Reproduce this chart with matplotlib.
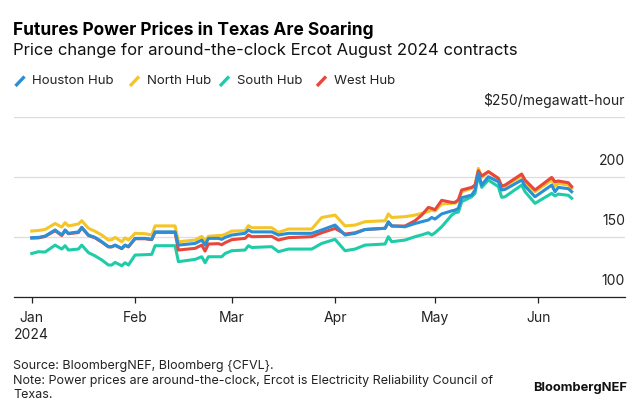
import matplotlib
matplotlib.use('Agg')
import matplotlib.pyplot as plt
from matplotlib.lines import Line2D
import numpy as np

plt.rcParams['font.family'] = ['Inter', 'DejaVu Sans']

# Data ($/MWh)
dates = ['2024-01-01', '2024-01-03', '2024-01-05', '2024-01-08', '2024-01-10', '2024-01-11',
         '2024-01-12', '2024-01-15', '2024-01-16', '2024-01-18', '2024-01-20', '2024-01-22',
         '2024-01-24', '2024-01-25', '2024-01-26', '2024-01-28', '2024-01-29', '2024-01-30',
         '2024-02-01', '2024-02-04', '2024-02-06', '2024-02-07', '2024-02-13', '2024-02-14',
         '2024-02-19', '2024-02-21', '2024-02-22', '2024-02-23', '2024-02-26', '2024-02-27',
         '2024-02-28', '2024-03-01', '2024-03-05', '2024-03-06', '2024-03-07', '2024-03-13',
         '2024-03-15', '2024-03-18', '2024-03-25', '2024-03-28', '2024-04-01', '2024-04-04',
         '2024-04-07', '2024-04-10', '2024-04-16', '2024-04-17', '2024-04-18', '2024-04-22',
         '2024-04-25', '2024-04-27', '2024-04-29', '2024-04-30', '2024-05-01', '2024-05-03',
         '2024-05-06', '2024-05-07', '2024-05-08', '2024-05-09', '2024-05-12', '2024-05-13',
         '2024-05-14', '2024-05-15', '2024-05-17', '2024-05-20', '2024-05-21', '2024-05-22',
         '2024-05-27', '2024-05-28', '2024-05-31', '2024-06-05', '2024-06-06', '2024-06-07',
         '2024-06-10', '2024-06-11']

houston = [149.2, 149.4, 150.5, 155.6, 151.4, 155.6, 152.8, 154.0, 157.8, 151.4, 149.4, 145.8,
           141.7, 141.7, 143.0, 140.3, 143.0, 141.7, 148.6, 148.6, 147.8, 154.0, 154.0, 143.0,
           144.4, 147.2, 143.0, 148.6, 148.6, 147.8, 149.4, 151.4, 152.8, 155.6, 154.0, 154.0,
           151.4, 152.8, 152.8, 155.6, 159.7, 151.4, 152.8, 156.0, 157.0, 162.5, 159.0, 158.3,
           161.0, 162.5, 163.9, 166.0, 164.7, 169.0, 171.5, 172.2, 173.6, 182.5, 184.7, 188.9,
           203.0, 193.0, 200.0, 195.8, 188.9, 189.4, 197.2, 192.2, 183.3, 193.0, 187.5, 191.1,
           190.0, 187.5]
north = [154.7, 155.2, 156.0, 161.0, 158.0, 161.7, 159.0, 160.6, 163.3, 157.0, 154.5, 151.4,
         147.2, 147.5, 149.4, 145.8, 149.0, 147.2, 152.8, 152.5, 151.4, 159.0, 159.0, 145.8,
         147.2, 150.3, 146.5, 150.3, 151.0, 151.0, 152.0, 154.7, 155.0, 159.2, 157.5, 157.5,
         153.6, 156.4, 156.4, 166.0, 168.0, 159.0, 159.7, 162.5, 163.3, 169.0, 166.0, 166.7,
         168.0, 169.4, 171.0, 172.2, 171.5, 177.2, 177.8, 178.0, 179.7, 187.5, 190.3, 192.2,
         206.9, 199.4, 204.2, 198.6, 191.1, 192.2, 200.6, 195.0, 187.5, 197.2, 192.2, 194.4,
         193.0, 190.3]
south = [136.0, 137.5, 137.2, 143.0, 139.7, 142.5, 138.9, 139.7, 143.0, 136.7, 134.0, 130.6,
         126.4, 126.4, 128.6, 125.8, 128.3, 126.4, 134.7, 135.0, 135.3, 142.5, 142.5, 129.2,
         131.1, 133.3, 128.3, 133.3, 133.3, 133.3, 136.0, 138.3, 138.9, 142.5, 141.0, 141.7,
         137.5, 139.7, 139.7, 144.4, 147.8, 138.3, 139.7, 143.0, 143.9, 150.0, 145.8, 147.2,
         150.0, 151.5, 153.3, 151.4, 153.3, 158.3, 168.0, 170.0, 170.5, 179.2, 183.3, 186.1,
         201.4, 191.1, 197.2, 191.7, 182.8, 183.3, 193.0, 187.5, 177.8, 186.1, 184.0, 185.5,
         184.5, 182.0]
west = [148.8, 149.0, 150.2, 155.0, 151.0, 155.0, 152.5, 153.5, 157.5, 151.0, 149.0, 145.5,
        141.5, 141.5, 142.8, 140.0, 142.8, 141.5, 148.3, 148.3, 147.5, 153.6, 153.6, 138.9,
        140.3, 143.0, 138.0, 143.9, 144.2, 143.3, 145.0, 147.5, 148.6, 151.4, 150.0, 150.3,
        147.2, 149.2, 150.0, 153.3, 156.9, 152.2, 153.3, 156.0, 157.0, 161.7, 158.9, 158.9,
        163.3, 168.0, 174.4, 173.6, 172.5, 180.3, 178.6, 178.6, 180.8, 188.9, 191.1, 193.0,
        205.0, 200.6, 204.2, 198.6, 192.2, 193.0, 202.2, 197.2, 188.9, 199.4, 195.8, 196.4,
        195.0, 191.7]

series_names = ['Houston Hub', 'North Hub', 'South Hub', 'West Hub']
series_colors = ['#2b8fd6', '#f5c527', '#1fcca8', '#e8473b']
month_ticks = ['2024-01-01', '2024-02-01', '2024-03-01', '2024-04-01', '2024-05-01', '2024-06-01']
month_labels = ['Jan\n2024', 'Feb', 'Mar', 'Apr', 'May', 'Jun']
y_ticks = [100, 150, 200, 250]
y_labels = ['100', '150', '200', '$250/megawatt-hour']

W, H = 640, 416
fig = plt.figure(figsize=(W / 100, H / 100), dpi=100)
ax = fig.add_axes([14 / W, 1 - 296.7 / H, (625 - 14) / W, (296.7 - 116.7) / H])

x = np.array(dates, dtype='datetime64[D]')
values = dict(zip(series_names, [houston, north, south, west]))
colors = dict(zip(series_names, series_colors))
for name in ['South Hub', 'North Hub', 'West Hub', 'Houston Hub']:
    ax.plot(x, values[name], color=colors[name], linewidth=2.2, solid_joinstyle='round')

ax.set_xlim(np.datetime64('2023-12-26T16:00'), np.datetime64('2024-06-27T00:00'))
ax.set_ylim(100, 250)

for s in ['top', 'left', 'right']:
    ax.spines[s].set_visible(False)
ax.spines['bottom'].set_color('#222222')
ax.spines['bottom'].set_linewidth(0.9)

ax.set_yticks(y_ticks)
ax.yaxis.set_tick_params(length=0, labelleft=False)
ax.grid(axis='y', color='#dddddd', linewidth=0.9)
ax.set_axisbelow(True)
for v, lab in zip(y_ticks, y_labels):
    ax.annotate(lab, xy=(1, v), xycoords=ax.get_yaxis_transform(), xytext=(0, 6),
                textcoords='offset points', ha='right', va='bottom', fontsize=10, color='#222222')

ax.set_xticks(np.array(month_ticks, dtype='datetime64[D]'))
ax.set_xticklabels(month_labels, fontsize=10, color='#222222', linespacing=1.35)
ax.xaxis.set_tick_params(length=4, width=0.9, color='#222222', pad=6)

# Titles
fig.text(13 / W, 1 - 30 / H, 'Futures Power Prices in Texas Are Soaring', fontsize=12.5,
         fontweight='bold', va='center', ha='left', color='#000000')
fig.text(13 / W, 1 - 51 / H, 'Price change for around-the-clock Ercot August 2024 contracts',
         fontsize=12, va='center', ha='left', color='#111111')

# Legend
leg_x = [15.5, 130, 220, 317]
for name, lx in zip(series_names, leg_x):
    fig.add_artist(Line2D([lx / W, (lx + 9) / W], [1 - 86 / H, 1 - 76.5 / H],
                          color=colors[name], linewidth=2.4, solid_capstyle='butt'))
    fig.text((lx + 17) / W, 1 - 81 / H, name, fontsize=9.5, va='center', ha='left', color='#222222')

# Footer
fig.text(13 / W, 1 - 366 / H, 'Source: BloombergNEF, Bloomberg {CFVL}.', fontsize=9,
         va='center', ha='left', color='#222222')
fig.text(13 / W, 1 - 381 / H, 'Note: Power prices are around-the-clock, Ercot is Electricity Reliability Council of',
         fontsize=9, va='center', ha='left', color='#222222')
fig.text(13 / W, 1 - 395.5 / H, 'Texas.', fontsize=9, va='center', ha='left', color='#222222')
fig.text(627 / W, 1 - 388 / H, 'BloombergNEF', fontsize=9.3, fontweight='bold', va='center',
         ha='right', color='#111111')

fig.savefig('out.png', dpi=100)
